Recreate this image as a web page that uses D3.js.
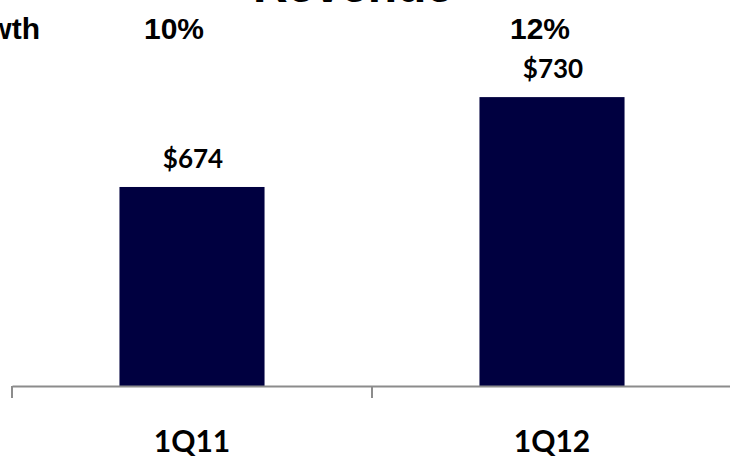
<!DOCTYPE html>
<html>
<head>
<meta charset="utf-8">
<script src="https://cdn.jsdelivr.net/npm/d3@7"></script>
<style>
  html, body { margin: 0; padding: 0; background: #fff; }
  svg { display: block; }
</style>
</head>
<body>
<svg id="chart" width="730" height="462"></svg>
<script>
// Quarterly revenue ($M) with year-over-year growth
const quarters = ["1Q11", "1Q12"];
const revenue = [674, 730];
const growth = ["10%", "12%"];
const valueLabels = ["$674", "$730"];
const title = "Revenue";
const growthTitle = "Growth";

const width = 730, height = 462;
const svg = d3.select("#chart");

const x = d3.scaleBand()
  .domain(quarters)
  .range([12, 732])
  .paddingInner(0)
  .paddingOuter(0);

const barWidth = x.bandwidth() * 0.403;

const y = d3.scaleLinear()
  .domain([550, 750])
  .range([386, 65]);

// Bars
svg.append("g").selectAll("rect")
  .data(quarters)
  .join("rect")
  .attr("x", (d) => x(d) + x.bandwidth() / 2 - barWidth / 2)
  .attr("width", barWidth)
  .attr("y", (d, i) => y(revenue[i]))
  .attr("height", (d, i) => y(550) - y(revenue[i]))
  .attr("fill", "#000040");

// Category axis
const axis = d3.axisBottom(x).tickSize(12).tickSizeOuter(0).tickFormat("");
const gx = svg.append("g").attr("transform", `translate(0,${y(550)})`).call(axis);
gx.select(".domain").attr("stroke", "#8c8c8c").attr("stroke-width", 2);
gx.selectAll(".tick line")
  .attr("stroke", "#8c8c8c").attr("stroke-width", 2)
  .attr("transform", `translate(${-x.bandwidth() / 2},0)`);

// Category labels
svg.append("g").selectAll("text")
  .data(quarters)
  .join("text")
  .attr("x", (d) => x(d) + x.bandwidth() / 2)
  .attr("y", 452)
  .attr("text-anchor", "middle")
  .attr("font-family", "Lato, sans-serif")
  .attr("font-weight", "bold")
  .attr("font-size", 30)
  .attr("fill", "#000")
  .text((d) => d);

// Value labels above bars
svg.append("g").selectAll("text")
  .data(quarters)
  .join("text")
  .attr("x", (d) => x(d) + x.bandwidth() / 2 + 1)
  .attr("y", (d, i) => y(revenue[i]) - 19)
  .attr("text-anchor", "middle")
  .attr("font-family", "Lato, sans-serif")
  .attr("font-weight", "bold")
  .attr("font-size", 26)
  .attr("fill", "#000")
  .text((d, i) => valueLabels[i]);

// Growth row
const growthOffset = [-18, -12];
svg.append("g").selectAll("text")
  .data(quarters)
  .join("text")
  .attr("x", (d, i) => x(d) + x.bandwidth() / 2 + growthOffset[i])
  .attr("y", 39)
  .attr("text-anchor", "middle")
  .attr("font-family", "'Liberation Sans', Arial, sans-serif")
  .attr("font-weight", "bold")
  .attr("font-size", 30)
  .attr("fill", "#000")
  .text((d, i) => growth[i]);

svg.append("text")
  .attr("x", 40)
  .attr("y", 39)
  .attr("text-anchor", "end")
  .attr("font-family", "'Liberation Sans', Arial, sans-serif")
  .attr("font-weight", "bold")
  .attr("font-size", 30)
  .attr("fill", "#000")
  .text(growthTitle);

// Title
svg.append("text")
  .attr("x", 353)
  .attr("y", 2)
  .attr("text-anchor", "middle")
  .attr("font-family", "'Liberation Sans', Arial, sans-serif")
  .attr("font-weight", "bold")
  .attr("font-size", 48)
  .attr("fill", "#000")
  .text(title);
</script>
</body>
</html>
